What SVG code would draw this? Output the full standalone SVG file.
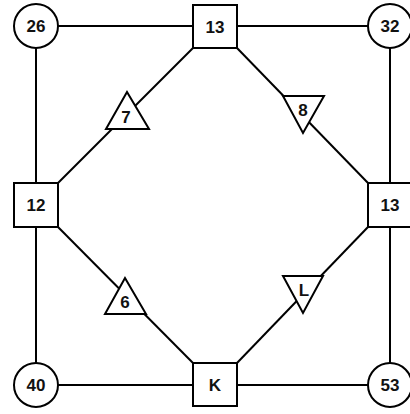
<svg xmlns="http://www.w3.org/2000/svg" width="410" height="414" viewBox="0 0 410 414">
<style>
.s{fill:#fff;stroke:#000;stroke-width:2}
.l{stroke:#000;stroke-width:2;fill:none}
text{font-family:"Liberation Sans",Arial,sans-serif;font-size:17px;font-weight:bold;text-anchor:middle;dominant-baseline:central;fill:#111}
</style>
<rect width="410" height="414" fill="#fff"/>
<g id="connectors">
<line class="l" x1="36" y1="26" x2="390" y2="26"/>
<line class="l" x1="36" y1="385" x2="390" y2="385"/>
<line class="l" x1="36" y1="26" x2="36" y2="385"/>
<line class="l" x1="390" y1="26" x2="390" y2="385"/>
<line class="l" x1="58" y1="183" x2="193" y2="48"/>
<line class="l" x1="237" y1="48" x2="368" y2="183"/>
<line class="l" x1="58" y1="227" x2="193" y2="363"/>
<line class="l" x1="237" y1="363" x2="368" y2="227"/>
</g>
<g id="n26"><circle class="s" cx="36" cy="26" r="22"/><text x="36" y="26">26</text></g>
<g id="n32"><circle class="s" cx="390" cy="26" r="22"/><text x="390" y="26">32</text></g>
<g id="n40"><circle class="s" cx="36" cy="385" r="22"/><text x="36" y="385">40</text></g>
<g id="n53"><circle class="s" cx="390" cy="385" r="22"/><text x="390" y="385">53</text></g>
<g id="s13top"><rect class="s" x="193" y="5" width="44" height="43"/><text x="215" y="27">13</text></g>
<g id="s12"><rect class="s" x="14" y="183" width="44" height="44"/><text x="36" y="205">12</text></g>
<g id="s13right"><rect class="s" x="368" y="183" width="43" height="44"/><text x="390" y="205">13</text></g>
<g id="sK"><rect class="s" x="193" y="363" width="44" height="43"/><text x="215" y="385">K</text></g>
<g id="t7"><polygon class="s" points="106,129 149,129 127,92"/><text x="126" y="117">7</text></g>
<g id="t8"><polygon class="s" points="283,96 324,96 303,133"/><text x="303" y="110">8</text></g>
<g id="t6"><polygon class="s" points="105,314 146,314 125,278"/><text x="125" y="302">6</text></g>
<g id="tL"><polygon class="s" points="283,276 323,276 303,313"/><text x="304" y="290">L</text></g>
</svg>
